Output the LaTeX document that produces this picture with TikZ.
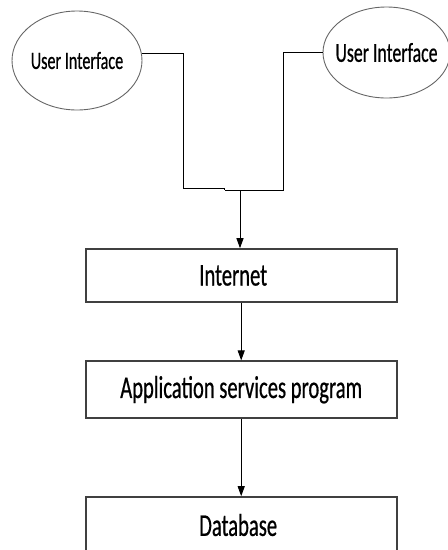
\documentclass[tikz,border=0pt]{standalone}
\usepackage{fontspec}
\setmainfont{Carlito}[FakeStretch=0.65, FakeBold=0.6]
\usetikzlibrary{shapes.geometric, arrows.meta}

\tikzset{
	ui/.style={shape=ellipse, draw=black!60, line width=0.9pt, inner sep=0pt, inner xsep=-20pt},
	layer/.style={shape=rectangle, draw=black!75, line width=1.6pt, minimum width=311pt, inner sep=0pt, font=\fontsize{31.7}{34}\selectfont},
	link/.style={-, line width=1pt, black},
	flow/.style={-{Triangle[length=10pt,width=7pt]}, line width=1pt, black},
}

\begin{document}
\begin{tikzpicture}[x=1pt, y=-1pt]
	\useasboundingbox (0,0) rectangle (448,550);
	
	\node[ui, minimum width=130pt, minimum height=99pt, font=\fontsize{24.8}{26}\selectfont] (ui1) at (77, 60.5)  {User Interface};
	\node[ui, minimum width=127pt, minimum height=91pt, font=\fontsize{27.4}{29}\selectfont] (ui2) at (386.5, 52.5) {User Interface};
	
	\node[layer, minimum height=53pt] (internet) at (241.2, 275.5) {Internet\hspace*{16pt}};
	\node[layer, minimum height=57pt] (app)      at (241.2, 389.7) {Application services program};
	\node[layer, minimum height=56pt] (database) at (241.2, 525)   {Database\hspace*{6pt}};
	
	\coordinate (jl) at (224.5, 188);
	\coordinate (jr) at (224.5, 190);
	\coordinate (j)  at (240, 190);
	
	\draw[link] (ui1.6) -- ++(41.5,0) |- (jl) -- (jr);
	\draw[link] (ui2.west) -- ++(-39.5,0) |- (jr);
	
	\draw[flow] (j) -- (j |- internet.north);
	\draw[flow] (internet) -- (app);
	\draw[flow] (app) -- (database);
	
\end{tikzpicture}
\end{document}
